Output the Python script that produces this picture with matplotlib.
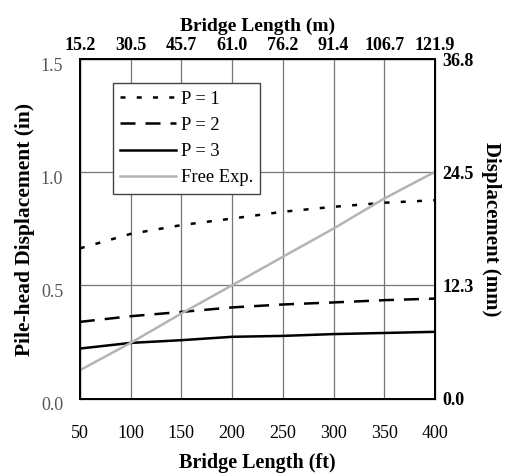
import matplotlib.pyplot as plt
import matplotlib.transforms as mtransforms

# Data
bridge_ft = [50, 100, 150, 200, 250, 300, 350, 400]
bridge_m_labels = ['15.2', '30.5', '45.7', '61.0', '76.2', '91.4', '106.7', '121.9']
p1 = [0.664, 0.728, 0.767, 0.796, 0.826, 0.848, 0.866, 0.877]
p2 = [0.339, 0.364, 0.383, 0.403, 0.416, 0.425, 0.435, 0.442]
p3 = [0.221, 0.246, 0.258, 0.273, 0.277, 0.285, 0.290, 0.295]
free_exp = [0.125, 0.246, 0.376, 0.501, 0.627, 0.752, 0.885, 1.003]
left_ticks = [0.0, 0.5, 1.0, 1.5]
right_labels = ['0.0', '12.3', '24.5', '36.8']

plt.rcParams['font.family'] = ['Liberation Serif', 'DejaVu Serif']

fig = plt.figure(figsize=(5.15, 4.75), dpi=100)
ax = fig.add_axes([0.155, 0.161, 0.690, 0.714])

# Curves
ax.plot(bridge_ft, p1, color='black', lw=1.8, linestyle=(0, (2, 4.5)), label='P = 1')
ax.plot(bridge_ft, p2, color='black', lw=1.8, linestyle=(0, (6, 4)), label='P = 2')
ax.plot(bridge_ft, p3, color='black', lw=1.8, label='P = 3')
ax.plot(bridge_ft, free_exp, color='#b4b4b4', lw=1.8, label='Free Exp.')

ax.set_xlim(50, 400)
ax.set_ylim(0, 1.5)
ax.set_xticks(bridge_ft)
ax.set_yticks(left_ticks)
ax.set_yticklabels(['%.1f' % v for v in left_ticks], color='#555555')
ax.tick_params(length=0, labelsize=13, pad=12)
ax.tick_params(axis='x', pad=19)
ax.grid(True, color='#777777', lw=0.9)
for s in ax.spines.values():
    s.set_linewidth(1.4)

# left tick labels sit a little below their gridlines
shift = mtransforms.ScaledTranslation(0, -5 / 100, fig.dpi_scale_trans)
for lbl in ax.get_yticklabels():
    lbl.set_transform(lbl.get_transform() + shift)

ax.set_xlabel('Bridge Length (ft)', fontsize=14.5, fontweight='bold', labelpad=8)
ax.set_ylabel('Pile-head Displacement (in)', fontsize=15.5, fontweight='bold', labelpad=4)

# Top axis (metres)
ax_top = ax.twiny()
ax_top.set_xlim(ax.get_xlim())
ax_top.set_xticks(bridge_ft)
ax_top.set_xticklabels(bridge_m_labels, fontweight='bold')
ax_top.tick_params(length=0, labelsize=13, pad=4)
ax_top.set_xlabel('Bridge Length (m)', fontsize=14, fontweight='bold', labelpad=4)

# Right axis (mm)
ax_right = ax.twinx()
ax_right.set_ylim(ax.get_ylim())
ax_right.set_yticks(left_ticks)
ax_right.set_yticklabels(right_labels, fontweight='bold')
ax_right.tick_params(length=0, labelsize=13, pad=5)
ax_right.set_ylabel('Displacement (mm)', fontsize=15, fontweight='bold',
                    rotation=270, labelpad=20)

leg = ax.legend(loc='upper left', bbox_to_anchor=(0.093, 0.93), fontsize=13.3,
                frameon=True, fancybox=False, edgecolor='#444444',
                handlelength=3.0, handletextpad=0.27, labelspacing=0.5,
                borderpad=0.4, borderaxespad=0)
leg.get_frame().set_linewidth(1.0)
leg.get_frame().set_alpha(1)
leg.set_zorder(10)

fig.savefig('out.png', dpi=100)
